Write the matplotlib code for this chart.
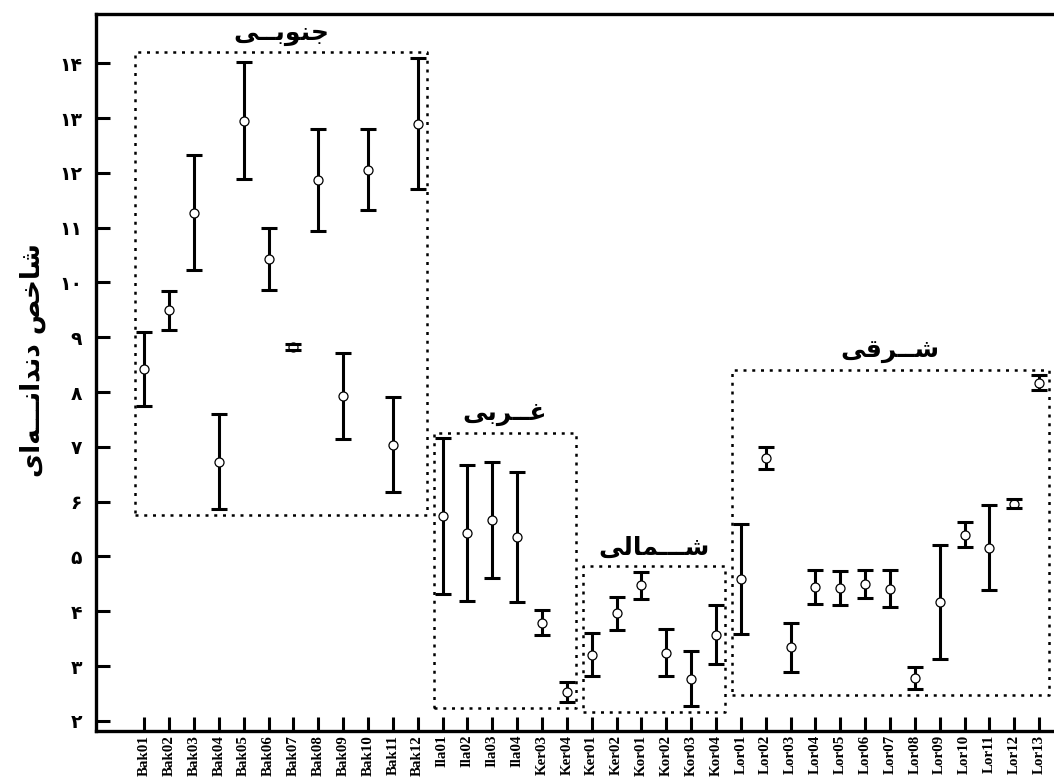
import numpy as np
import matplotlib
matplotlib.use('Agg')
import matplotlib.pyplot as plt
from matplotlib import font_manager, ft2font
from matplotlib.font_manager import FontProperties

# data: mean and half-width of the interval
sites = ['Bak01', 'Bak02', 'Bak03', 'Bak04', 'Bak05', 'Bak06', 'Bak07', 'Bak08',
         'Bak09', 'Bak10', 'Bak11', 'Bak12',
         'Ila01', 'Ila02', 'Ila03', 'Ila04', 'Ker03', 'Ker04',
         'Ker01', 'Ker02', 'Kor01', 'Kor02', 'Kor03', 'Kor04',
         'Lor01', 'Lor02', 'Lor03', 'Lor04', 'Lor05', 'Lor06', 'Lor07', 'Lor08',
         'Lor09', 'Lor10', 'Lor11', 'Lor12', 'Lor13']
means = [8.42, 9.49, 11.27, 6.73, 12.95, 10.43, 8.82, 11.87, 7.93, 12.06, 7.04, 12.90,
         5.74, 5.43, 5.66, 5.35, 3.79, 2.52,
         3.21, 3.96, 4.47, 3.24, 2.77, 3.57,
         4.59, 6.79, 3.34, 4.44, 4.43, 4.50, 4.41, 2.79, 4.16, 5.40, 5.16, 5.96, 8.17]
errs = [0.67, 0.35, 1.05, 0.87, 1.07, 0.56, 0.06, 0.93, 0.79, 0.74, 0.87, 1.20,
        1.42, 1.24, 1.06, 1.19, 0.23, 0.18,
        0.39, 0.30, 0.25, 0.43, 0.50, 0.54,
        1.00, 0.20, 0.45, 0.31, 0.31, 0.25, 0.34, 0.20, 1.04, 0.22, 0.78, 0.08, 0.14]

# regions: label, first and last site index
group_names = ['جنوبــی', 'غــربی', 'شـــمالی', 'شــرقی']
group_first = [0, 12, 18, 24]
group_last = [11, 17, 23, 36]

ylabel = 'شاخص دندانـــه\u200cای'
yticks = list(range(2, 15))

#%% minimal persian shaping (matplotlib has no arabic layout)
ARFONT = 'DejaVu Sans'
_path = font_manager.findfont(FontProperties(family=ARFONT, weight='bold'))
_cmap = ft2font.FT2Font(_path).get_charmap()
if 0xFBFC in _cmap:
    _yeh = (0xFBFC, 0xFBFD, 0xFBFE, 0xFBFF)
else:
    _yeh = (0xFEEF, 0xFEF0, 0xFEF3, 0xFEF4)

FORMS = {
    'ا': (0xFE8D, 0xFE8E), 'د': (0xFEA9, 0xFEAA), 'ر': (0xFEAD, 0xFEAE),
    'و': (0xFEED, 0xFEEE),
    'ب': (0xFE8F, 0xFE90, 0xFE91, 0xFE92), 'ج': (0xFE9D, 0xFE9E, 0xFE9F, 0xFEA0),
    'خ': (0xFEA5, 0xFEA6, 0xFEA7, 0xFEA8), 'ش': (0xFEB5, 0xFEB6, 0xFEB7, 0xFEB8),
    'ص': (0xFEB9, 0xFEBA, 0xFEBB, 0xFEBC), 'غ': (0xFECD, 0xFECE, 0xFECF, 0xFED0),
    'ق': (0xFED5, 0xFED6, 0xFED7, 0xFED8), 'ل': (0xFEDD, 0xFEDE, 0xFEDF, 0xFEE0),
    'م': (0xFEE1, 0xFEE2, 0xFEE3, 0xFEE4), 'ن': (0xFEE5, 0xFEE6, 0xFEE7, 0xFEE8),
    'ه': (0xFEE9, 0xFEEA, 0xFEEB, 0xFEEC), 'ی': _yeh,
    'ـ': (0x0640, 0x0640, 0x0640, 0x0640),
}


def shape(s):
    out = []
    for i, c in enumerate(s):
        if c == '\u200c':
            continue
        if c not in FORMS:
            out.append(c)
            continue
        p = s[i - 1] if i > 0 else ''
        n = s[i + 1] if i + 1 < len(s) else ''
        jp = p in FORMS and len(FORMS[p]) == 4
        jn = n in FORMS and len(FORMS[c]) == 4
        f = FORMS[c]
        if jp and jn:
            out.append(chr(f[3]))
        elif jp:
            out.append(chr(f[1]))
        elif jn:
            out.append(chr(f[2]))
        else:
            out.append(chr(f[0]))
    return ''.join(out[::-1])


fa_digits = str.maketrans('0123456789', '۰۱۲۳۴۵۶۷۸۹')

#%% plot
fig = plt.figure(figsize=(10.54, 7.82), dpi=100)
ax = fig.add_axes([96 / 1054, 1 - 730.7 / 782, 1 - 96 / 1054, (730.7 - 14) / 782])

x = np.arange(len(sites))
m = np.array(means)
e = np.array(errs)

eb = ax.errorbar(x, m, yerr=e, fmt='none', ecolor='k', elinewidth=2.2,
                 capsize=5.8, capthick=2.2, zorder=2)
for cap in eb[1]:
    cap.set_zorder(4)
ax.plot(x, m, 'o', ms=6.5, mfc='white', mec='k', mew=0.9, ls='none', zorder=3)

for name, a, b in zip(group_names, group_first, group_last):
    lo = (m[a:b + 1] - e[a:b + 1]).min() - 0.11
    hi = (m[a:b + 1] + e[a:b + 1]).max() + 0.1
    x0, x1 = a - 0.36, b + 0.38
    ax.plot([x0, x1, x1, x0, x0], [lo, lo, hi, hi, lo], color='k', lw=1.8,
            ls=(0, (1.2, 2.3)), zorder=1)
    ax.text((x0 + x1) / 2, hi + 0.34, shape(name), ha='center', va='center',
            fontsize=18, fontweight='bold', family=ARFONT)

ax.set_xlim(-1.94, 36.6)
ax.set_ylim(1.82, 14.9)

ax.set_xticks(x)
ax.set_xticklabels(sites, rotation=90, fontsize=10.8, fontweight='bold',
                   family='Liberation Serif')
ax.set_yticks(yticks)
ax.set_yticklabels([str(v).translate(fa_digits) for v in yticks], fontsize=13.5,
                   fontweight='bold', family=ARFONT)
ax.tick_params(direction='in', length=10, width=2.2)
ax.tick_params(axis='y', pad=10)
ax.tick_params(axis='x', pad=3)

for s in ['left', 'bottom', 'top']:
    ax.spines[s].set_linewidth(2.4)
ax.spines['right'].set_visible(False)

ax.set_ylabel(shape(ylabel), fontsize=19, fontweight='bold', family=ARFONT)
ax.yaxis.set_label_coords(-0.052, 0.517)

fig.savefig('out.png', dpi=100)
